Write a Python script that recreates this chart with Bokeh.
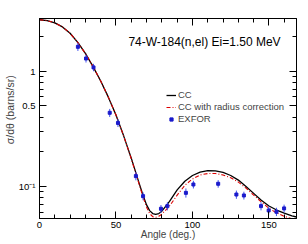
from bokeh.plotting import figure
from bokeh.models import (Range1d, FixedTicker, LinearAxis, LogAxis, Label, Legend,
                          LegendItem, CustomJSTickFormatter)
from bokeh.embed import file_html
from bokeh.resources import INLINE

# ---------------- data ----------------
cc_angle = [0, 5, 10, 15, 20, 25, 30, 35, 40, 45, 50, 55, 60, 65, 68, 70, 72, 74, 76, 78,
            80, 85, 90, 95, 100, 105, 110, 115, 120, 125, 130, 135, 140, 145, 150, 155,
            160, 165, 168]
cc_xs = [2.80, 2.754, 2.63, 2.427, 2.138, 1.778, 1.429, 1.096, 0.822, 0.596, 0.417, 0.275,
         0.176, 0.108, 0.0813, 0.0692, 0.0617, 0.0582, 0.0571, 0.0582,
         0.061, 0.0741, 0.0933, 0.111, 0.1245, 0.1334, 0.1374, 0.1365, 0.1324, 0.1245,
         0.1135, 0.100, 0.0871, 0.0759, 0.0676, 0.0624, 0.0586, 0.0556, 0.0543]

ccr_angle = [0, 5, 10, 15, 20, 25, 30, 35, 40, 45, 50, 55, 60, 65, 68, 70, 72, 74, 76, 78,
             80, 85, 90, 95, 100, 105, 110, 115, 120, 125, 130, 135, 140, 145, 150, 155,
             160, 165, 168]
ccr_xs = [2.80, 2.754, 2.63, 2.427, 2.138, 1.778, 1.429, 1.096, 0.822, 0.596, 0.417, 0.275,
          0.1738, 0.1059, 0.0785, 0.0661, 0.0582, 0.0547, 0.0540, 0.0552,
          0.0575, 0.0676, 0.0841, 0.1023, 0.1161, 0.1259, 0.1294, 0.1294, 0.1259, 0.1189,
          0.1091, 0.0966, 0.0841, 0.0733, 0.0646, 0.0589, 0.0550, 0.0525, 0.0513]

exp_angle = [25.1, 30.4, 35.3, 45.9, 51.3, 63.0, 67.7, 79.4, 83.6, 95.7, 100.6, 116.8,
             128.7, 133.6, 144.8, 149.8, 154.9, 159.9]
exp_xs = [1.63, 1.29, 1.08, 0.436, 0.356, 0.123, 0.0824, 0.064, 0.0675, 0.088, 0.104, 0.1055,
          0.0851, 0.0835, 0.0675, 0.0619, 0.0603, 0.0645]
exp_err = [0.13, 0.10, 0.08, 0.035, 0.028, 0.010, 0.0065, 0.005, 0.0055, 0.008, 0.008, 0.008,
           0.007, 0.0065, 0.0055, 0.005, 0.005, 0.005]

x_major = [0, 50, 100, 150]
x_minor = [10, 20, 30, 40, 60, 70, 80, 90, 110, 120, 130, 140, 160]
y_major = [0.1, 0.5, 1]
y_minor = [0.06, 0.07, 0.08, 0.09, 0.2, 0.3, 0.4, 0.6, 0.7, 0.8, 0.9, 2]
y_labels = {0.1: "10\u207b\u00b9", 0.5: "0.5", 1: "1"}

title_text = "74-W-184(n,el) Ei=1.50 MeV"
x_title = "Angle (deg.)"
y_title = "\u00a0" * 6 + "\u03c3/d\u03b8 (barns/sr)"
legend_labels = ["CC", "CC with radius correction", "EXFOR"]

FONT = "Liberation Sans"

# ---------------- figure ----------------
p = figure(width=300, height=242, y_axis_type="log",
           x_range=Range1d(0, 168), y_range=Range1d(0.0527, 2.87),
           output_backend="svg", toolbar_location=None,
           min_border_left=33, min_border_right=4, min_border_top=18, min_border_bottom=24)
p.grid.visible = False
p.outline_line_color = "black"
p.outline_line_width = 1
p.background_fill_color = "white"
p.border_fill_color = "white"

xt = FixedTicker(ticks=x_major, minor_ticks=x_minor)
yt = FixedTicker(ticks=y_major, minor_ticks=y_minor)


def style(ax, show_labels):
    ax.axis_line_color = "black"
    ax.major_tick_line_color = "black"
    ax.minor_tick_line_color = "black"
    ax.major_tick_in = 7
    ax.major_tick_out = 0
    ax.minor_tick_in = 4
    ax.minor_tick_out = 0
    ax.major_label_text_font = FONT
    ax.major_label_text_color = "black"
    if show_labels:
        ax.major_label_text_font_size = "9.5px"
    else:
        ax.major_label_text_font_size = "0px"
        ax.major_label_standoff = 0
        ax.formatter = CustomJSTickFormatter(code="return ''")


p.xaxis.ticker = xt
p.yaxis.ticker = yt
p.yaxis.major_label_overrides = y_labels
style(p.xaxis[0], True)
style(p.yaxis[0], True)
p.xaxis.major_label_standoff = 3
p.yaxis.major_label_standoff = 4

p.xaxis.axis_label = x_title
p.xaxis.axis_label_text_font = FONT
p.xaxis.axis_label_text_font_size = "10px"
p.xaxis.axis_label_text_font_style = "normal"
p.xaxis.axis_label_standoff = -2
p.yaxis.axis_label = y_title
p.yaxis.axis_label_text_font = FONT
p.yaxis.axis_label_text_font_size = "10.5px"
p.yaxis.axis_label_text_font_style = "normal"
p.yaxis.axis_label_standoff = 0

top = LinearAxis(ticker=FixedTicker(ticks=x_major, minor_ticks=x_minor))
style(top, False)
p.add_layout(top, "above")
right = LogAxis(ticker=FixedTicker(ticks=y_major, minor_ticks=y_minor))
style(right, False)
p.add_layout(right, "right")

# curves
r_cc = p.line(cc_angle, cc_xs, line_color="black", line_width=1.3)
r_ccr = p.line(ccr_angle, ccr_xs, line_color="#dd0000", line_width=1.1, line_dash="4 2 1 2")

# data with error bars
lo = [v - e for v, e in zip(exp_xs, exp_err)]
hi = [v + e for v, e in zip(exp_xs, exp_err)]
p.segment(x0=exp_angle, y0=lo, x1=exp_angle, y1=hi, line_color="#4455ee", line_width=1)
r_exp = p.scatter(exp_angle, exp_xs, marker="square", size=3,
                  fill_color="#1a1acc", line_color="#1a1acc")

# title inside the frame
p.add_layout(Label(x=58.1, y=1.787, text=title_text, text_font=FONT, text_font_size="12px",
                   text_baseline="middle", text_align="left", text_color="black"))

legend = Legend(items=[LegendItem(label=legend_labels[0], renderers=[r_cc]),
                       LegendItem(label=legend_labels[1], renderers=[r_ccr]),
                       LegendItem(label=legend_labels[2], renderers=[r_exp])],
                location=(127, 94), orientation="vertical",
                glyph_width=10, glyph_height=8, label_height=8, label_standoff=2,
                spacing=1, padding=0, margin=0,
                label_text_font=FONT, label_text_font_size="9.5px",
                border_line_alpha=0, background_fill_alpha=0)
p.add_layout(legend)

open("out.html", "w").write(file_html(p, INLINE))
